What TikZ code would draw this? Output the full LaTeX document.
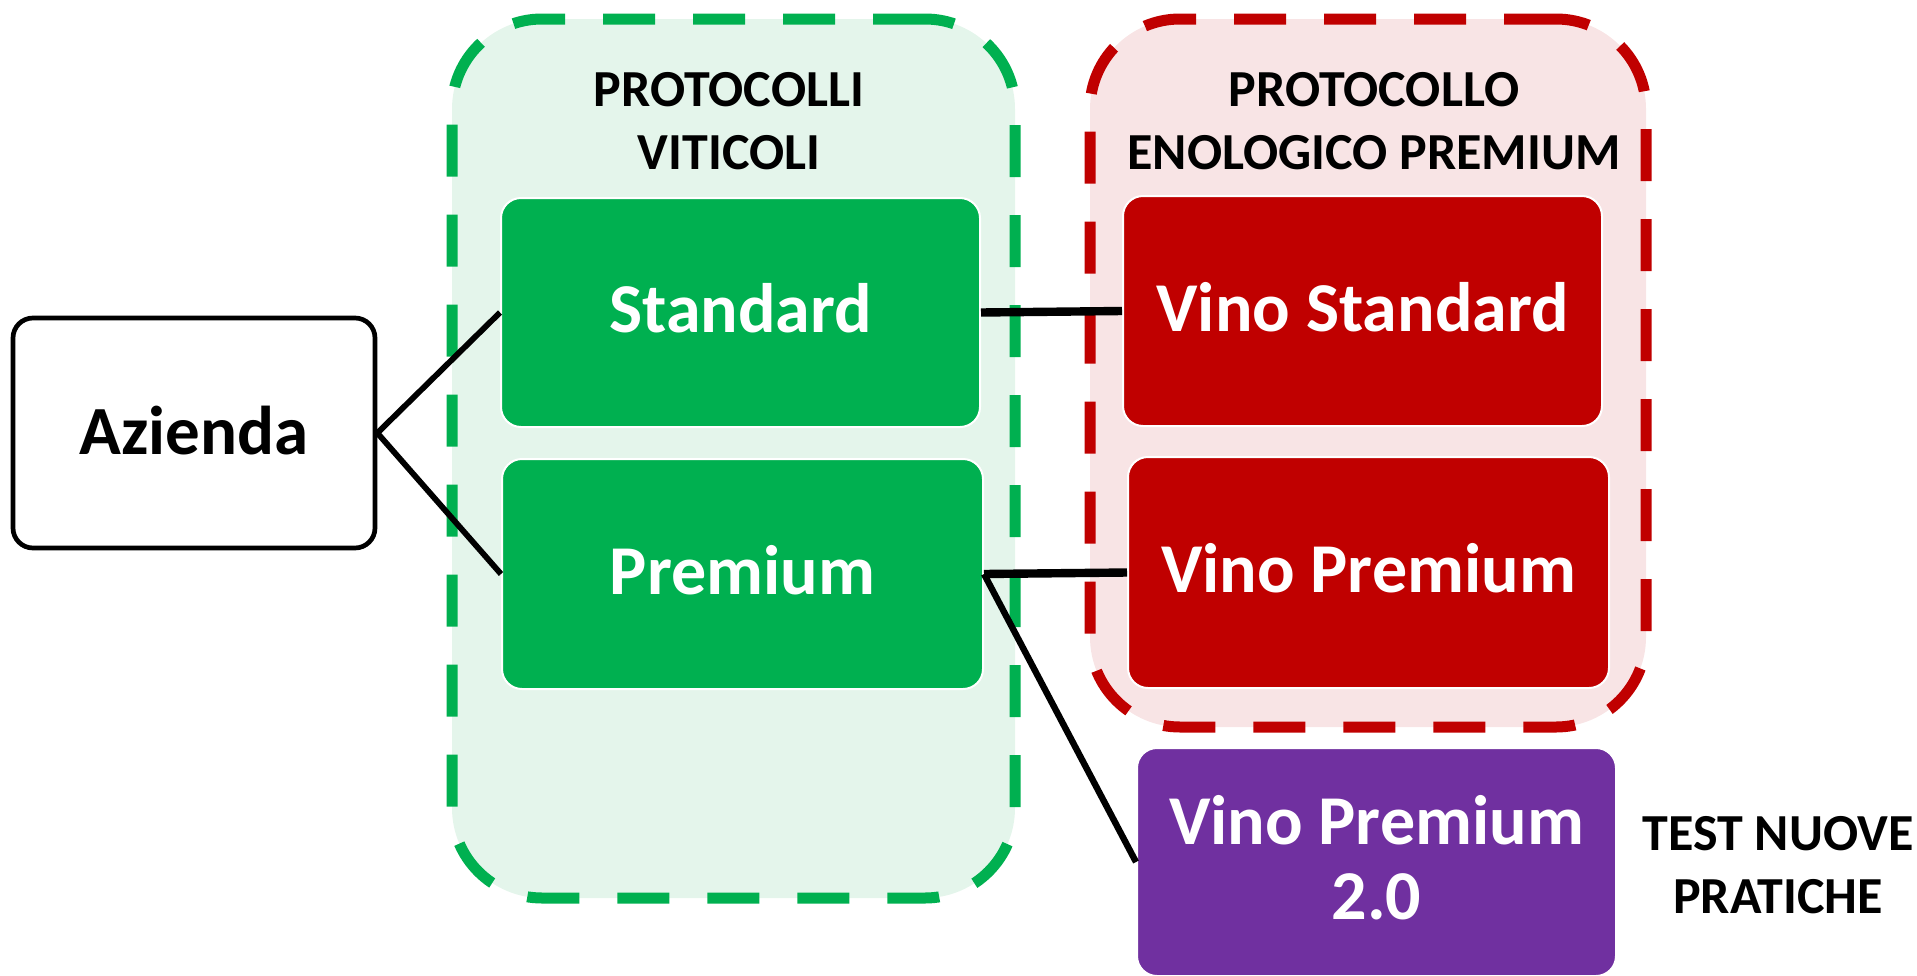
\documentclass[tikz,border=0pt]{standalone}
\usepackage{fontspec}
\setmainfont{Carlito}
\definecolor{cgreen}{HTML}{00B050}
\definecolor{cred}{HTML}{C00000}
\definecolor{cpurple}{HTML}{7030A0}
\definecolor{lgreen}{HTML}{E4F5EB}
\definecolor{lred}{HTML}{F8E4E5}
\begin{document}
\begin{tikzpicture}[x=0.5pt,y=-0.5pt,
  cont/.style={rectangle, rounded corners=45pt, line width=5.5pt, dash pattern=on 26pt off 19pt, inner sep=0pt},
  box/.style={rectangle, rounded corners=10pt, draw=white, line width=1pt, text=white, font=\bfseries\fontsize{35}{37.5}\selectfont, align=center, inner sep=0pt, text depth=4.5pt},
  head/.style={font=\bfseries\fontsize{26}{31.5}\selectfont, align=center, inner sep=0pt, text=black},
  conn/.style={draw=black, line width=4.2pt},
  diag/.style={draw=black, line width=2.9pt}
]
\useasboundingbox (0,0) rectangle (1917,975);
% containers
\node[cont, draw=cgreen, fill=lgreen, minimum width=281.5pt, minimum height=439.5pt] (gcont) at (733.5,458.5) {};
\node[cont, draw=cred, fill=lred, minimum width=278pt, minimum height=354pt] (rcont) at (1368,373) {};
% headers
\node[head] (ghead) at (729,121.5) {PROTOCOLLI\\VITICOLI};
\node[head] (rhead) at (1374,121.5) {PROTOCOLLO\\ENOLOGICO PREMIUM};
\node[head] (thead) at (1778,865.5) {TEST NUOVE\\PRATICHE};
% azienda
\node[rectangle, rounded corners=10pt, draw=black, line width=2.35pt, fill=white, minimum width=181pt, minimum height=115pt, font=\bfseries\fontsize{34.5}{37.5}\selectfont, inner sep=0pt, text depth=2.5pt] (az) at (194,433) {Azienda};
% boxes
\node[box, fill=cgreen, minimum width=239.5pt, minimum height=114.5pt] (std) at (740.5,312.5) {Standard};
\node[box, fill=cgreen, minimum width=240.5pt, minimum height=115pt] (prem) at (742.5,574) {Premium};
\node[box, fill=cred, minimum width=239.5pt, minimum height=115pt] (vstd) at (1362.5,311) {Vino Standard};
\node[box, fill=cred, minimum width=240.5pt, minimum height=115.5pt] (vprem) at (1368.5,572.5) {Vino Premium};
\node[box, fill=cpurple, minimum width=239.5pt, minimum height=114pt] (vprem2) at (1376.5,862) {Vino Premium\\2.0};
% connectors
\draw[diag] (az.east) -- (std.west);
\draw[diag] (az.east) -- (prem.west);
\draw[conn] (std.east) -- (vstd.west);
\draw[conn] (prem.east) -- (vprem.west);
\draw[diag, line width=3.2pt] (prem.east) -- (vprem2.west);
\end{tikzpicture}
\end{document}
